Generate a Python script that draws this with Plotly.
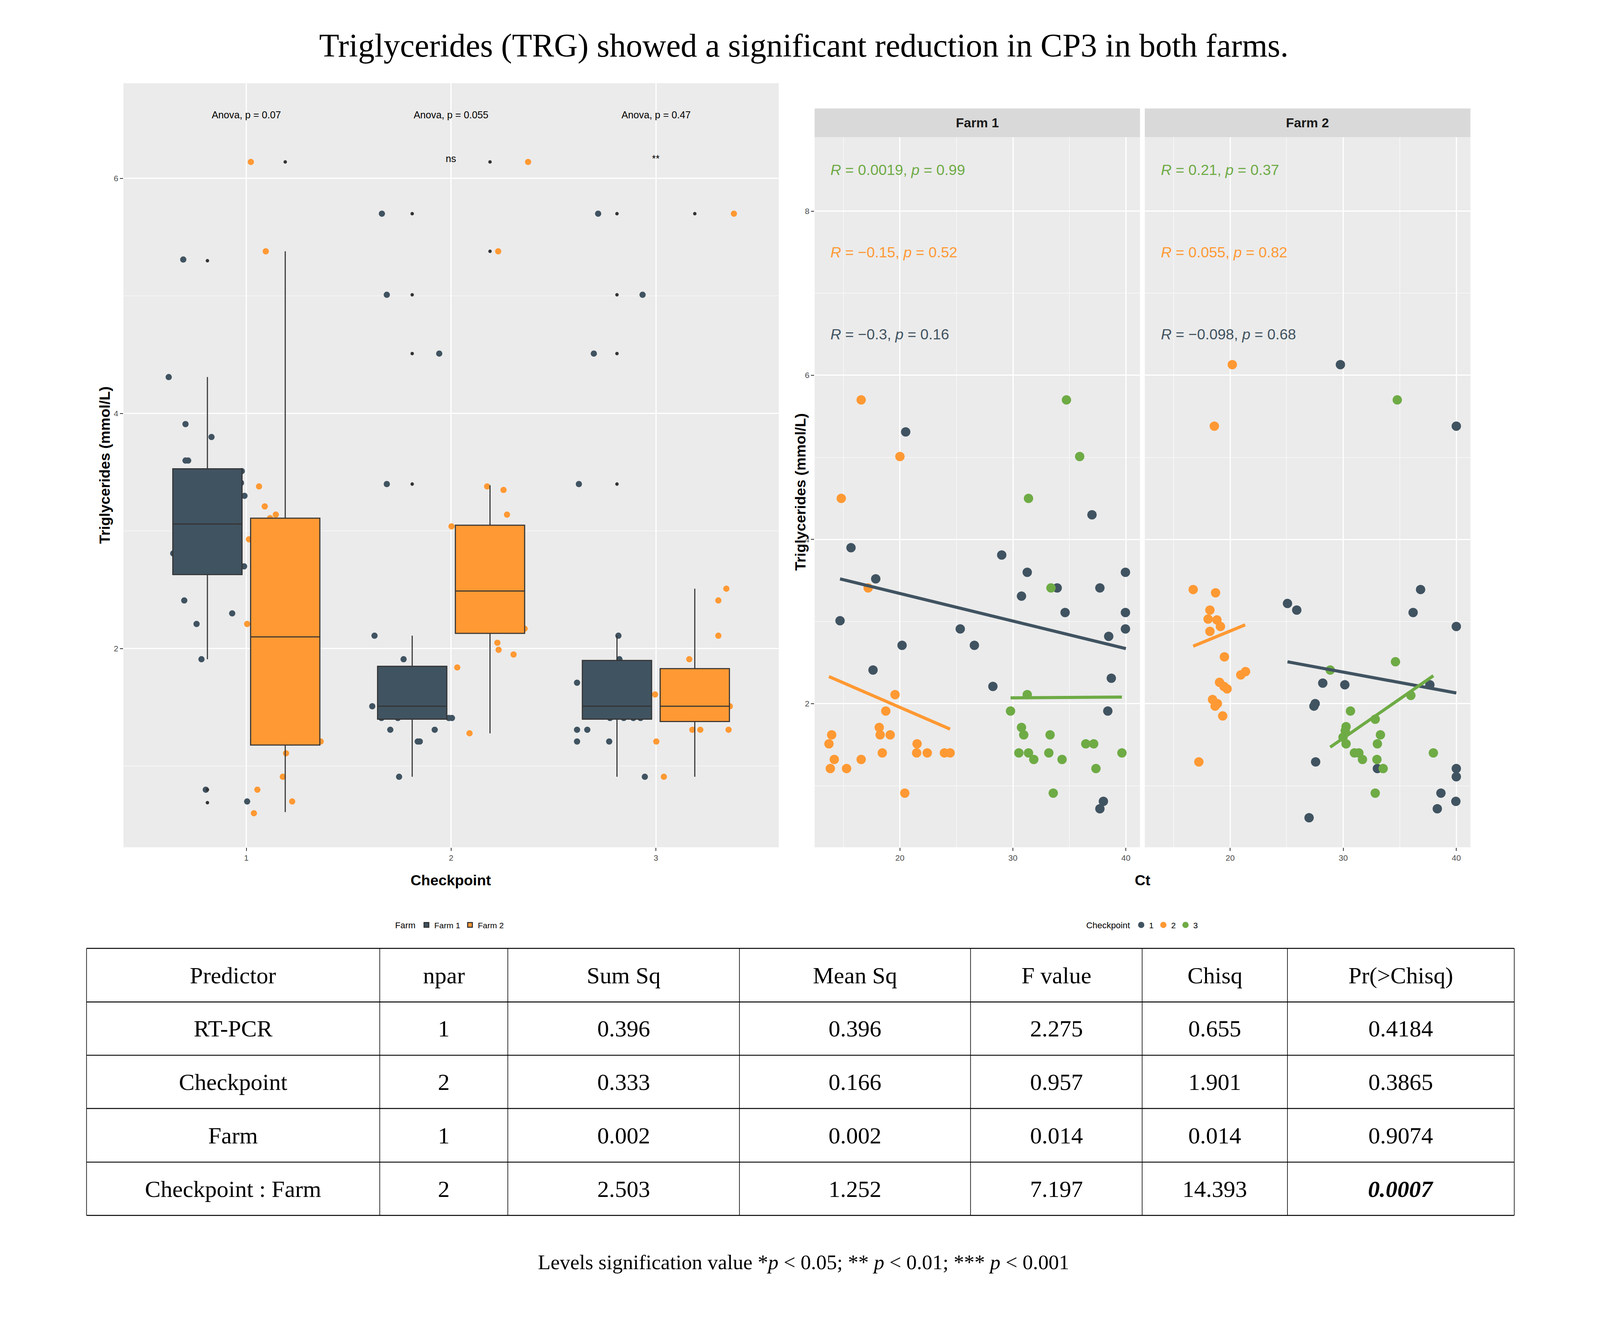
import plotly.graph_objects as go

# ---------------- data: left panel (boxplot by checkpoint and farm) ----------------
checkpoints = ["1", "2", "3"]

f1_q1 = [2.63, 1.40, 1.40]
f1_median = [3.06, 1.51, 1.51]
f1_q3 = [3.53, 1.85, 1.90]
f1_low = [1.91, 0.91, 0.91]
f1_high = [4.31, 2.11, 2.11]

f2_q1 = [1.18, 2.13, 1.38]
f2_median = [2.10, 2.49, 1.51]
f2_q3 = [3.11, 3.05, 1.83]
f2_low = [0.61, 1.28, 0.91]
f2_high = [5.38, 3.39, 2.51]

# outliers (checkpoint, value)
f1_out_cp = [1, 1, 1, 2, 2, 2, 2, 3, 3, 3, 3]
f1_out_trg = [5.30, 0.80, 0.69, 5.70, 5.01, 4.51, 3.40, 5.70, 5.01, 4.51, 3.40]
f2_out_cp = [1, 2, 2, 3]
f2_out_trg = [6.14, 6.14, 5.38, 5.70]

# jittered raw points (jittered checkpoint position, value)
jit_f1_x = [0.692, 0.621, 0.703, 0.830, 0.703, 0.716, 0.978, 0.974, 0.991, 0.643, 0.989, 0.697,
            0.931, 0.757, 0.781, 0.802, 1.004,
            1.662, 1.686, 1.942, 1.686, 1.626, 1.768, 1.615, 1.660, 1.740, 1.989, 2.004, 1.703,
            1.920, 1.837, 1.847, 1.746,
            2.718, 2.935, 2.697, 2.624, 2.817, 2.822, 2.615, 2.776, 2.843, 2.890, 2.925, 2.615,
            2.665, 2.772, 2.615, 2.946]
jit_f1_y = [5.31, 4.31, 3.91, 3.80, 3.60, 3.60, 3.51, 3.41, 3.30, 2.81, 2.70, 2.41,
            2.30, 2.21, 1.91, 0.80, 0.70,
            5.70, 5.01, 4.51, 3.40, 2.11, 1.91, 1.51, 1.41, 1.41, 1.41, 1.41, 1.31,
            1.31, 1.21, 1.21, 0.91,
            5.70, 5.01, 4.51, 3.40, 2.11, 1.91, 1.71, 1.41, 1.41, 1.41, 1.41, 1.31,
            1.31, 1.21, 1.21, 0.91]
jit_f2_x = [1.022, 1.095, 1.062, 1.090, 1.144, 1.116, 1.013, 1.004, 1.363, 1.194, 1.178, 1.054,
            1.224, 1.037,
            2.376, 2.230, 2.176, 2.256, 2.273, 2.002, 2.359, 2.226, 2.232, 2.305, 2.030, 2.090,
            3.381, 3.344, 3.305, 3.305, 3.163, 2.996, 3.361, 3.178, 3.217, 3.355, 3.002, 3.039]
jit_f2_y = [6.14, 5.38, 3.38, 3.21, 3.14, 3.11, 2.93, 2.21, 1.21, 1.11, 0.91, 0.80,
            0.70, 0.60,
            6.14, 5.38, 3.38, 3.35, 3.14, 3.04, 2.17, 2.05, 1.99, 1.95, 1.84, 1.28,
            5.70, 2.51, 2.41, 2.11, 1.91, 1.61, 1.51, 1.31, 1.31, 1.31, 1.21, 0.91]

anova_labels = ["Anova, p = 0.07", "Anova, p = 0.055", "Anova, p = 0.47"]
signif_labels = ["", "ns", "**"]

# ---------------- data: right panel (Ct vs TRG, faceted by farm) ----------------
farm1_ct = {
    "1": [20.51, 15.67, 17.86, 14.70, 20.19, 17.62, 29.01, 31.27, 30.76, 33.92, 34.62, 25.34,
          26.59, 28.23, 37.0, 37.70, 39.96, 39.96, 39.96, 38.48, 38.71, 38.40, 38.01, 37.70],
    "2": [16.57, 20.0, 14.81, 17.19, 19.57, 18.75, 18.17, 18.25, 19.14, 13.96, 13.72, 14.19,
          13.84, 15.28, 16.57, 18.44, 21.52, 21.48, 22.42, 23.94, 24.44, 20.43],
    "3": [34.74, 35.91, 31.38, 33.37, 31.27, 29.79, 30.76, 30.96, 33.29, 30.53, 31.38, 31.85,
          33.18, 34.35, 36.45, 37.15, 37.35, 39.65, 33.57],
}
farm1_trg = {
    "1": [5.31, 3.90, 3.52, 3.01, 2.71, 2.41, 3.81, 3.60, 3.31, 3.41, 3.11, 2.91,
          2.71, 2.21, 4.30, 3.41, 3.60, 3.11, 2.91, 2.82, 2.31, 1.91, 0.81, 0.72],
    "2": [5.70, 5.01, 4.50, 3.41, 2.11, 1.91, 1.71, 1.62, 1.62, 1.62, 1.51, 1.32,
          1.21, 1.21, 1.32, 1.40, 1.51, 1.40, 1.40, 1.40, 1.40, 0.91],
    "3": [5.70, 5.01, 4.50, 3.41, 2.11, 1.91, 1.71, 1.62, 1.62, 1.40, 1.40, 1.32,
          1.40, 1.32, 1.51, 1.51, 1.21, 1.40, 0.91],
}
farm2_ct = {
    "1": [29.75, 40.0, 25.07, 25.89, 36.84, 36.18, 40.0, 28.19, 30.14, 27.52, 27.41, 37.66,
          27.56, 33.02, 40.0, 40.0, 38.64, 38.32, 39.96, 26.98],
    "2": [20.19, 18.60, 16.73, 18.71, 18.21, 18.05, 18.83, 19.14, 18.21, 19.49, 19.06, 19.45,
          19.73, 20.94, 21.36, 18.44, 18.87, 18.67, 19.34, 17.23],
    "3": [34.78, 34.62, 28.85, 35.98, 30.64, 32.83, 30.25, 30.18, 29.98, 30.25, 30.99, 31.38,
          31.70, 33.29, 33.02, 32.98, 33.53, 37.97, 32.83],
}
farm2_trg = {
    "1": [6.13, 5.38, 3.22, 3.14, 3.39, 3.11, 2.94, 2.25, 2.23, 2.0, 1.97, 2.23,
          1.29, 1.21, 1.21, 1.11, 0.91, 0.72, 0.81, 0.61],
    "2": [6.13, 5.38, 3.39, 3.35, 3.14, 3.03, 3.02, 2.94, 2.88, 2.57, 2.26, 2.21,
          2.18, 2.35, 2.39, 2.05, 2.0, 1.97, 1.85, 1.29],
    "3": [5.70, 2.51, 2.41, 2.10, 1.91, 1.81, 1.72, 1.67, 1.59, 1.51, 1.40, 1.40,
          1.32, 1.62, 1.51, 1.32, 1.21, 1.40, 0.91],
}

# fitted lm lines (start / end)
farm1_fit_ct = {"1": [14.70, 40.0], "2": [13.72, 24.44], "3": [29.79, 39.65]}
farm1_fit_trg = {"1": [3.52, 2.67], "2": [2.33, 1.69], "3": [2.07, 2.08]}
farm2_fit_ct = {"1": [25.07, 40.0], "2": [16.73, 21.33], "3": [28.85, 37.97]}
farm2_fit_trg = {"1": [2.51, 2.13], "2": [2.70, 2.96], "3": [1.47, 2.34]}

farm1_r = {"3": ("0.0019", "0.99"), "2": ("−0.15", "0.52"), "1": ("−0.3", "0.16")}
farm2_r = {"3": ("0.21", "0.37"), "2": ("0.055", "0.82"), "1": ("−0.098", "0.68")}
r_label_ct = 13.8
r_label_trg = {"3": 8.5, "2": 7.5, "1": 6.5}

# ---------------- data: ANOVA table ----------------
tab_header = ["Predictor", "npar", "Sum Sq", "Mean Sq", "F value", "Chisq", "Pr(>Chisq)"]
predictor = ["RT-PCR", "Checkpoint", "Farm", "Checkpoint : Farm"]
npar = ["1", "2", "1", "2"]
sum_sq = ["0.396", "0.333", "0.002", "2.503"]
mean_sq = ["0.396", "0.166", "0.002", "1.252"]
f_value = ["2.275", "0.957", "0.014", "7.197"]
chisq = ["0.655", "1.901", "0.014", "14.393"]
pr_chisq = ["0.4184", "0.3865", "0.9074", "0.0007"]

# ---------------- styling ----------------
# positions are worked out on the 6000 x 3375 reference grid and given as paper fractions;
# the figure autosizes to the window, the browser viewport comes out narrower than 6000,
# so pixel sizes are scaled down a bit
W, H = 6000, 3375
K_FONT = 0.7
K_MARK = 0.8
DARK = "#405361"
ORANGE = "#FF9933"
GREEN = "#6EAB45"
cp_colors = {"1": DARK, "2": ORANGE, "3": GREEN}
SANS = "Liberation Sans, Arial, sans-serif"
SERIF = "Liberation Serif, Times New Roman, serif"
DODGE = 0.19


def px(x):
    return x / W


def py(y):
    return 1 - y / H


def sz(v):
    return v * K_FONT


def mk(v):
    return v * K_MARK


def note(x, y, text, size, family=SANS, color="black", **kw):
    d = dict(x=x, y=y, xref="paper", yref="paper", text=text, showarrow=False,
             xanchor="center", yanchor="middle", font=dict(family=family, size=sz(size), color=color))
    d.update(kw)
    return d


fig = go.Figure()

# jitter points (below the boxes)
fig.add_trace(go.Scatter(x=jit_f1_x, y=jit_f1_y, mode="markers", xaxis="x", yaxis="y",
                         marker=dict(color=DARK, size=mk(20)), showlegend=False, hoverinfo="skip"))
fig.add_trace(go.Scatter(x=jit_f2_x, y=jit_f2_y, mode="markers", xaxis="x", yaxis="y",
                         marker=dict(color=ORANGE, size=mk(20)), showlegend=False, hoverinfo="skip"))
# outliers
fig.add_trace(go.Scatter(x=[c - DODGE for c in f1_out_cp], y=f1_out_trg, mode="markers",
                         marker=dict(color="#333333", size=mk(11)), showlegend=False))
fig.add_trace(go.Scatter(x=[c + DODGE for c in f2_out_cp], y=f2_out_trg, mode="markers",
                         marker=dict(color="#333333", size=mk(11)), showlegend=False))

# boxes on an overlaying categorical axis so they sit on top of the points
fig.add_trace(go.Box(name="Farm 1", x=checkpoints, q1=f1_q1, median=f1_median, q3=f1_q3,
                     lowerfence=f1_low, upperfence=f1_high, fillcolor=DARK,
                     line=dict(color="#333333", width=mk(3.5)), whiskerwidth=0, boxpoints=False,
                     xaxis="x4", yaxis="y4", legend="legend"))
fig.add_trace(go.Box(name="Farm 2", x=checkpoints, q1=f2_q1, median=f2_median, q3=f2_q3,
                     lowerfence=f2_low, upperfence=f2_high, fillcolor=ORANGE,
                     line=dict(color="#333333", width=mk(3.5)), whiskerwidth=0, boxpoints=False,
                     xaxis="x4", yaxis="y4", legend="legend"))

# right facets
for farm_ct, farm_trg, fit_ct, fit_trg, xa, ya, first in [
        (farm1_ct, farm1_trg, farm1_fit_ct, farm1_fit_trg, "x2", "y2", True),
        (farm2_ct, farm2_trg, farm2_fit_ct, farm2_fit_trg, "x3", "y3", False)]:
    for cp in ["1", "2", "3"]:
        fig.add_trace(go.Scatter(x=farm_ct[cp], y=farm_trg[cp], mode="markers", xaxis=xa, yaxis=ya,
                                 marker=dict(color=cp_colors[cp], size=mk(30)), name=cp,
                                 legend="legend2", showlegend=first))
    for cp in ["1", "2", "3"]:
        fig.add_trace(go.Scatter(x=fit_ct[cp], y=fit_trg[cp], mode="lines", xaxis=xa, yaxis=ya,
                                 line=dict(color=cp_colors[cp], width=mk(10)), showlegend=False))

annotations = []
# anova text
for i, cp in enumerate([1, 2, 3]):
    annotations.append(note(cp, 6.54, anova_labels[i], 36, xref="x", yref="y"))
    if signif_labels[i]:
        annotations.append(note(cp, 6.17, signif_labels[i], 36, xref="x", yref="y"))

# correlation labels
for rdict, xa, ya in [(farm1_r, "x2", "y2"), (farm2_r, "x3", "y3")]:
    for cp, (r, p) in rdict.items():
        annotations.append(note(r_label_ct, r_label_trg[cp], f"<i>R</i> = {r}, <i>p</i> = {p}", 54,
                                color=cp_colors[cp], xref=xa, yref=ya, xanchor="left"))

# facet strips
shapes = []
for x0, x1, label in [(3055, 4280, "Farm 1"), (4298, 5524, "Farm 2")]:
    shapes.append(dict(type="rect", xref="paper", yref="paper", x0=px(x0), x1=px(x1),
                       y0=py(345), y1=py(271), fillcolor="#D9D9D9", line=dict(width=0)))
    annotations.append(note(px((x0 + x1) / 2), py(308), f"<b>{label}</b>", 48, color="#1A1A1A"))

# axis titles
annotations += [
    note(px(1686), py(2257), "<b>Checkpoint</b>", 54),
    note(px(383), py(1189), "<b>Triglycerides (mmol/L)</b>", 54, textangle=-90),
    note(px(4290), py(2257), "<b>Ct</b>", 54),
    note(px(3002), py(1258), "<b>Triglycerides (mmol/L)</b>", 54, textangle=-90),
]

# main title
annotations.append(note(px(3015), py(110),
                        "Triglycerides (TRG) showed a significant reduction in CP3 in both farms.",
                        120, family=SERIF))

# table
col_edges = [314, 1418, 1900, 2772, 3642, 4288, 4835, 5689]
row_edges = [2432, 2570, 2707, 2844, 2982, 3119]
for y in row_edges:
    shapes.append(dict(type="line", xref="paper", yref="paper", x0=px(col_edges[0]), x1=px(col_edges[-1]),
                       y0=py(y), y1=py(y), line=dict(color="black", width=mk(3))))
for x in col_edges:
    shapes.append(dict(type="line", xref="paper", yref="paper", x0=px(x), x1=px(x),
                       y0=py(row_edges[0]), y1=py(row_edges[-1]), line=dict(color="black", width=mk(2))))

table_cols = [predictor, npar, sum_sq, mean_sq, f_value, chisq, pr_chisq]
for j, head in enumerate(tab_header):
    cx = px((col_edges[j] + col_edges[j + 1]) / 2)
    annotations.append(note(cx, py((row_edges[0] + row_edges[1]) / 2), head, 86, family=SERIF))
    for i, val in enumerate(table_cols[j]):
        txt = val
        if j == 6 and i == 3:
            txt = f"<b><i>{val}</i></b>"
        annotations.append(note(cx, py((row_edges[i + 1] + row_edges[i + 2]) / 2), txt, 86, family=SERIF))

annotations.append(note(px(3013), py(3240),
                        "Levels signification value *<i>p</i> < 0.05; ** <i>p</i> < 0.01; *** <i>p</i> < 0.001",
                        76, family=SERIF))

tick_font = dict(family=SANS, size=sz(30), color="#4D4D4D")
axis_common = dict(showgrid=True, gridcolor="white", gridwidth=mk(3.5), ticks="outside", ticklen=mk(10),
                   tickwidth=mk(2.5), tickcolor="#333333", tickfont=tick_font, zeroline=False,
                   showline=False)
minor_grid = dict(showgrid=True, gridcolor="white", gridwidth=mk(1.8), ticks="")

left_x = [px(453), px(2920)]
left_y = [py(2172), py(206)]
right_y = [py(2172), py(345)]

fig.update_layout(
    autosize=True,
    margin=dict(l=0, r=0, t=0, b=0),
    paper_bgcolor="white", plot_bgcolor="#EBEBEB",
    boxmode="group", boxgap=0.24, boxgroupgap=0.11,
    xaxis=dict(domain=left_x, range=[0.4, 3.6], tickvals=[1, 2, 3], ticktext=checkpoints,
               anchor="y", **axis_common),
    yaxis=dict(domain=left_y, range=[0.31, 6.81], tickvals=[2, 4, 6], anchor="x",
               minor=dict(tickvals=[1, 3, 5], **minor_grid), **axis_common),
    xaxis4=dict(overlaying="x", type="category", range=[-0.6, 2.6], visible=False,
                categoryorder="array", categoryarray=checkpoints),
    yaxis4=dict(overlaying="y", range=[0.31, 6.81], visible=False),
    xaxis2=dict(domain=[px(3055), px(4280)], range=[12.45, 41.25], tickvals=[20, 30, 40], anchor="y2",
                minor=dict(tickvals=[15, 25, 35], **minor_grid), **axis_common),
    yaxis2=dict(domain=right_y, range=[0.25, 8.9], tickvals=[2, 4, 6, 8], anchor="x2",
                minor=dict(tickvals=[1, 3, 5, 7], **minor_grid), **axis_common),
    xaxis3=dict(domain=[px(4298), px(5524)], range=[12.45, 41.25], tickvals=[20, 30, 40], anchor="y3",
                minor=dict(tickvals=[15, 25, 35], **minor_grid), **axis_common),
    yaxis3=dict(domain=right_y, range=[0.25, 8.9], tickvals=[2, 4, 6, 8], anchor="x3", matches="y2",
                minor=dict(tickvals=[1, 3, 5, 7], **minor_grid), **{**axis_common, "ticks": ""},
                showticklabels=False),
    legend=dict(orientation="h", x=px(1683), y=py(2372), xanchor="center", yanchor="middle",
                title=dict(text="Farm", side="left", font=dict(family=SANS, size=sz(32))),
                font=dict(family=SANS, size=sz(30), color="black"), bgcolor="rgba(0,0,0,0)"),
    legend2=dict(orientation="h", x=px(4290), y=py(2372), xanchor="center", yanchor="middle",
                 title=dict(text="Checkpoint", side="left", font=dict(family=SANS, size=sz(32))),
                 font=dict(family=SANS, size=sz(30), color="black"), bgcolor="rgba(0,0,0,0)"),
    shapes=shapes,
    annotations=annotations,
)

fig.write_html("out.html")
